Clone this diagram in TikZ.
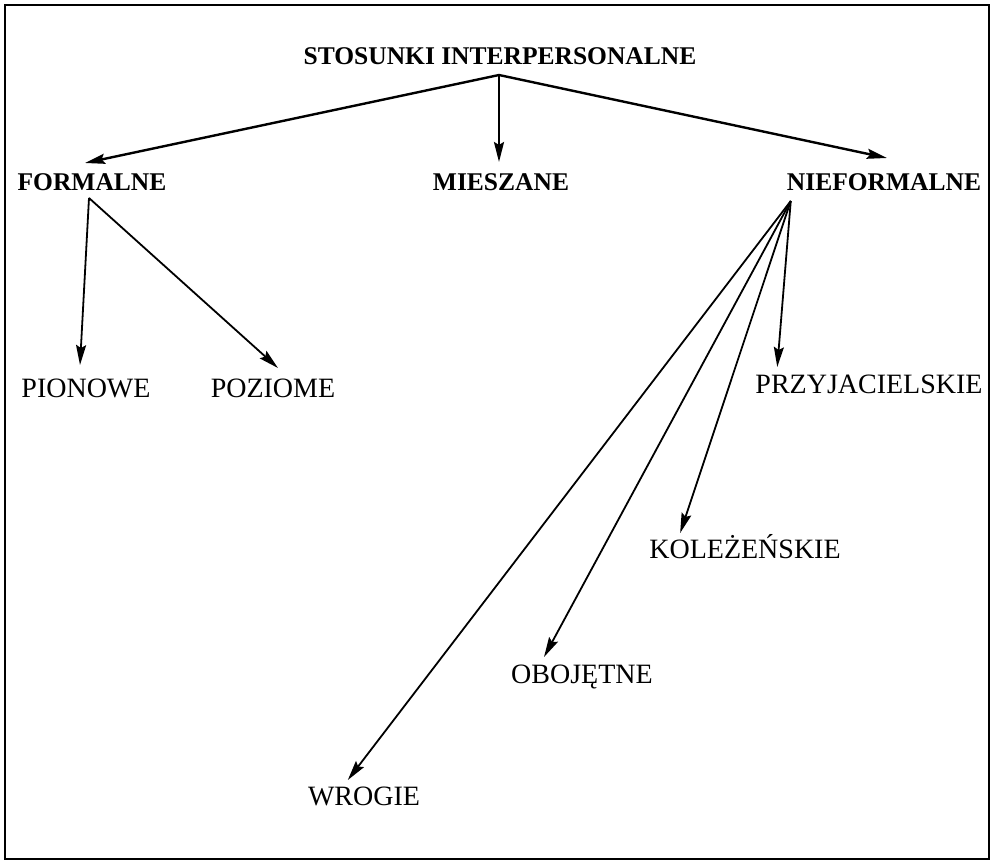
\documentclass[tikz,border=0pt]{standalone}
\usepackage{fontspec}
\setmainfont{Liberation Serif}
\usetikzlibrary{arrows.meta}

\begin{document}
\begin{tikzpicture}[x=1pt,y=-1pt,>={Stealth[length=20pt,width=10pt,inset=3pt]},
  head/.style={font=\fontsize{25.5}{30}\selectfont\bfseries,inner sep=0pt,anchor=base},
  leaf/.style={font=\fontsize{28}{32}\selectfont,inner sep=0pt,anchor=base},
  link/.style={->,line width=2.4pt},
  sublink/.style={->,line width=1.8pt}]
\useasboundingbox (0,0) rectangle (995,861);
\draw[line width=2.4pt] (5,5) rectangle (989,859);
% levels of the tree
\node[head] (root) at (500,65) {STOSUNKI INTERPERSONALNE};
\node[head] (formal) at (92,190) {FORMALNE};
\node[head] (mixed) at (501,190) {MIESZANE};
\node[head] (informal) at (884,190) {NIEFORMALNE};
\node[leaf] (vertical) at (86,397) {PIONOWE};
\node[leaf] (horizontal) at (273,397) {POZIOME};
\node[leaf] (friendly) at (869,393) {PRZYJACIELSKIE};
\node[leaf] (collegial) at (745,558) {KOLEŻEŃSKIE};
\node[leaf] (indifferent) at (582,683) {OBOJĘTNE};
\node[leaf] (hostile) at (364,805) {WROGIE};
\coordinate (roothub) at ([xshift=-1pt,yshift=-10pt]root.base);
\coordinate (formalhub) at ([xshift=-3pt,yshift=-8pt]formal.base);
\coordinate (informalhub) at ([xshift=4pt,yshift=-11pt]informal.base west);
% arrows
\draw[link] (roothub) -- ([xshift=-7pt,yshift=27pt]formal.base);
\draw[link] (roothub) -- ([xshift=-2pt,yshift=28pt]mixed.base);
\draw[link] (roothub) -- ([xshift=3pt,yshift=32pt]informal.base);
\draw[sublink] (formalhub) -- ([xshift=-6pt,yshift=32pt]vertical.base);
\draw[sublink] (formalhub) -- ([xshift=5pt,yshift=29pt]horizontal.base);
\draw[sublink] (informalhub) -- ([xshift=22pt,yshift=26pt]friendly.base west);
\draw[sublink] (informalhub) -- ([xshift=31pt,yshift=25pt]collegial.base west);
\draw[sublink] (informalhub) -- ([xshift=33pt,yshift=26pt]indifferent.base west);
\draw[sublink] (informalhub) -- ([xshift=40pt,yshift=25pt]hostile.base west);
\end{tikzpicture}
\end{document}
